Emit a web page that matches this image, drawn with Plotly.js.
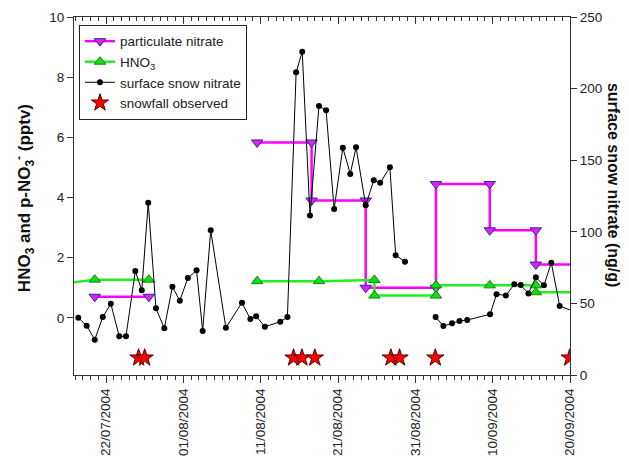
<!DOCTYPE html>
<html>
<head>
<meta charset="utf-8">
<script src="https://cdn.plot.ly/plotly-3.0.1.min.js"></script>
<style>html,body{margin:0;padding:0;background:#fff;}#chart{width:629px;height:457px;}</style>
</head>
<body>
<div id="chart"></div>
<script>
// ---- data ----
const particulateDates = ['2004-07-20 13:00','2004-07-27 13:00','2004-08-03 00:00','2004-08-10 13:00','2004-08-17 14:00','2004-08-17 14:00','2004-08-24 14:00','2004-08-24 14:00','2004-09-02 16:00','2004-09-02 16:00','2004-09-09 15:00','2004-09-09 15:00','2004-09-15 14:00','2004-09-15 14:00','2004-09-22 00:00'];
const particulateValues = [0.70,0.70,null,5.83,5.83,3.90,3.90,1.00,1.00,4.45,4.45,2.91,2.91,1.77,1.77];

const hno3Dates = ['2004-07-12 00:00','2004-07-20 13:00','2004-07-27 13:00','2004-08-03 00:00','2004-08-10 13:00','2004-08-18 13:00','2004-08-25 17:00','2004-08-25 17:00','2004-09-02 16:00','2004-09-02 16:00','2004-09-09 15:00','2004-09-15 14:00','2004-09-15 14:00','2004-09-22 00:00'];
const hno3Values = [1.00,1.27,1.27,null,1.22,1.22,1.26,0.74,0.74,1.08,1.08,1.08,0.85,0.85];

const snowDates = ['2004-07-18 10:00','2004-07-19 12:00','2004-07-20 13:00','2004-07-21 14:00','2004-07-22 15:00','2004-07-23 17:00','2004-07-24 14:00','2004-07-25 19:00','2004-07-26 15:00','2004-07-27 11:00','2004-07-28 11:00','2004-07-29 13:00','2004-07-30 14:00','2004-07-31 13:00','2004-08-01 14:00','2004-08-02 17:00','2004-08-03 12:00','2004-08-04 13:00','2004-08-06 12:00','2004-08-08 14:00','2004-08-09 16:00','2004-08-10 10:00','2004-08-11 13:00','2004-08-13 13:00','2004-08-14 11:00','2004-08-15 14:00','2004-08-16 09:00','2004-08-17 09:00','2004-08-18 13:00','2004-08-19 11:00','2004-08-20 12:00','2004-08-21 15:00','2004-08-22 14:00','2004-08-23 08:00','2004-08-24 14:00','2004-08-25 15:00','2004-08-26 11:00','2004-08-27 17:00','2004-08-28 11:00','2004-08-29 16:00','2004-08-31 00:00','2004-09-02 15:00','2004-09-03 15:00','2004-09-04 18:00','2004-09-05 17:00','2004-09-06 17:00','2004-09-09 16:00','2004-09-10 12:00','2004-09-11 17:00','2004-09-12 19:00','2004-09-13 15:00','2004-09-14 15:00','2004-09-15 14:00','2004-09-16 15:00','2004-09-17 14:00','2004-09-18 16:00','2004-09-22 00:00'];
const snowValues = [40.0,34.4,24.7,40.5,49.8,27,27,72.6,59.1,120.3,46.6,32.6,61.7,51.9,67.7,73.1,30.7,101,33,50.5,39.1,41,33.7,37.2,40.5,211.4,225.8,111.3,187.8,184.8,115.9,158.7,140.4,159,118.5,136,134.3,145,83.6,79.1,null,40.5,34.2,36.1,37.7,38.4,42.4,56.4,55.6,63.3,62.8,57,68.2,62.6,78.4,48.2,41.2];

const snowfallDates = ['2004-07-26 05:00','2004-07-27 00:00','2004-08-15 06:00','2004-08-16 08:00','2004-08-18 00:00','2004-08-27 20:00','2004-08-28 23:00','2004-09-02 14:00','2004-09-19 23:00'];
const snowfallLevel = [12,12,12,12,12,12,12,12,12];

const xRange = ['2004-07-17 20:40','2004-09-20 00:00'];
const leftRange = [-1.9, 10];
const rightRange = [0, 250];

// ---- traces ----
const FONT = 'Liberation Sans, Arial, sans-serif';
const traces = [
  {x: particulateDates, y: particulateValues, name: 'particulate nitrate', type: 'scatter', mode: 'lines+markers',
   connectgaps: false, line: {color: '#ff00ff', width: 2.5},
   marker: {symbol: 'triangle-down', size: 10, color: '#e020f0', line: {color: '#2a2a9a', width: 1}}},
  {x: hno3Dates, y: hno3Values, name: 'HNO<sub>3</sub>', type: 'scatter', mode: 'lines+markers',
   connectgaps: false, line: {color: '#22ee22', width: 2.5},
   marker: {symbol: 'triangle-up', size: 10, color: '#11dd11', line: {color: '#118811', width: 1}}},
  {x: snowDates, y: snowValues, name: 'surface snow nitrate', type: 'scatter', mode: 'lines+markers', yaxis: 'y2',
   connectgaps: false, line: {color: '#000', width: 1},
   marker: {symbol: 'circle', size: 6, color: '#000'}},
  {x: snowfallDates, y: snowfallLevel, name: 'snowfall observed', type: 'scatter', mode: 'markers', yaxis: 'y2',
   marker: {symbol: 'star', size: 13, color: '#ff0000', line: {color: '#550000', width: 1}}}
];

const tickCommon = {
  type: 'date', tickmode: 'linear', tick0: '2004-07-22', dtick: 864000000,
  minor: {dtick: 86400000, tick0: '2004-07-22', ticklen: 4, tickcolor: '#333', ticks: 'outside'}
};

const layout = {
  width: 629, height: 457,
  margin: {l: 74, r: 59, t: 17, b: 82, pad: 0},
  paper_bgcolor: '#fff', plot_bgcolor: '#fff',
  font: {family: FONT, size: 13, color: '#222'},
  showlegend: true,
  legend: {x: 0.01, y: 0.978, xanchor: 'left', yanchor: 'top', bgcolor: '#fff',
           bordercolor: '#222', borderwidth: 1, font: {family: FONT, size: 13.5, color: '#222'},
           tracegroupgap: 0},
  xaxis: Object.assign({}, tickCommon, {
    range: xRange, tickformat: '%d/%m/%Y', tickangle: -90,
    ticks: 'outside', ticklen: 7, tickcolor: '#333', showline: true, linecolor: '#333', linewidth: 1,
    showgrid: false, zeroline: false, tickfont: {family: FONT, size: 13.5, color: '#222'}
  }),
  xaxis2: Object.assign({}, tickCommon, {
    range: xRange, overlaying: 'x', side: 'top', anchor: 'y', showticklabels: false,
    ticks: 'inside', ticklen: 7, tickcolor: '#333', showline: true, linecolor: '#333', linewidth: 1,
    showgrid: false, zeroline: false,
    minor: {dtick: 86400000, tick0: '2004-07-22', ticklen: 4, tickcolor: '#333', ticks: 'inside'}
  }),
  yaxis: {
    range: leftRange, tickmode: 'linear', tick0: 0, dtick: 2,
    ticks: 'outside', ticklen: 6, tickcolor: '#333', showline: true, linecolor: '#333', linewidth: 1,
    showgrid: false, zeroline: false, tickfont: {family: FONT, size: 13.5, color: '#222'}
  },
  yaxis2: {
    range: rightRange, overlaying: 'y', side: 'right', tickmode: 'linear', tick0: 0, dtick: 50,
    ticks: 'outside', ticklen: 6, tickcolor: '#333', showline: true, linecolor: '#333', linewidth: 1,
    showgrid: false, zeroline: false, tickfont: {family: FONT, size: 13.5, color: '#222'}
  },
  annotations: [
    {text: '<b>HNO<sub>3</sub> and p-NO<sub>3</sub><sup>-</sup> (pptv)</b>', xref: 'paper', yref: 'paper',
     x: -0.1008, y: 0.494, xanchor: 'center', yanchor: 'middle', textangle: -90, showarrow: false,
     font: {family: FONT, size: 17, color: '#111'}},
    {text: '<b>surface snow nitrate (ng/g)</b>', xref: 'paper', yref: 'paper',
     x: 1.0867, y: 0.531, xanchor: 'center', yanchor: 'middle', textangle: 90, showarrow: false,
     font: {family: FONT, size: 16, color: '#111'}}
  ]
};

// dummy trace to activate the top mirror axis
traces.push({x: xRange, y: [null, null], xaxis: 'x2', yaxis: 'y', showlegend: false, hoverinfo: 'skip', mode: 'lines'});

Plotly.newPlot('chart', traces, layout, {displayModeBar: false, staticPlot: true});
</script>
</body>
</html>
